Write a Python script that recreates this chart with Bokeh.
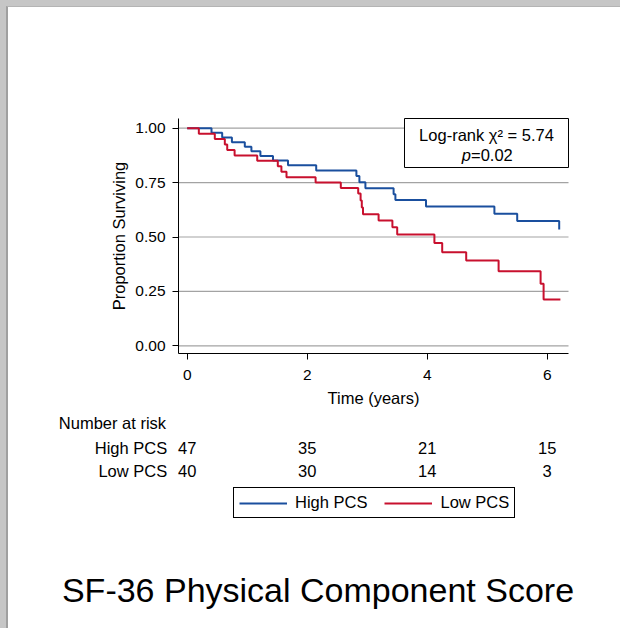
from bokeh.plotting import figure
from bokeh.layouts import column
from bokeh.models import (Range1d, FixedTicker, NumeralTickFormatter, Label,
                          BoxAnnotation, Legend, LegendItem)
from bokeh.embed import file_html
from bokeh.resources import INLINE

# ---- data ----
high_t = [0, 0.405, 0.583, 0.745, 0.96, 1.07, 1.22, 1.43, 1.68, 2.15, 2.82, 2.87, 2.97,
          3.44, 3.47, 3.98, 5.12, 5.50, 6.20]
high_s = [1.0, 0.979, 0.957, 0.936, 0.915, 0.894, 0.872, 0.851, 0.830, 0.806, 0.780, 0.752, 0.724,
          0.697, 0.670, 0.640, 0.607, 0.573, 0.534]
low_t = [0, 0.194, 0.46, 0.627, 0.667, 0.79, 1.167, 1.51, 1.57, 1.655, 2.14, 2.56, 2.85, 2.89,
         2.91, 2.93, 3.19, 3.42, 3.50, 4.12, 4.25, 4.65, 5.19, 5.89, 5.94, 6.22]
low_s = [1.0, 0.975, 0.95, 0.925, 0.90, 0.875, 0.85, 0.825, 0.80, 0.775, 0.75, 0.725, 0.70, 0.668,
         0.635, 0.605, 0.576, 0.545, 0.511, 0.472, 0.430, 0.392, 0.343, 0.285, 0.213, 0.213]

x_ticks = [0, 2, 4, 6]
y_ticks = [0, 0.25, 0.5, 0.75, 1.0]
groups = ["High PCS", "Low PCS"]
at_risk_high = [47, 35, 21, 15]
at_risk_low = [40, 30, 14, 3]
chi2 = 5.74
pval = 0.02
title_text = "SF-36 Physical Component Score"

BLUE = "#1a4f9e"
RED = "#c8102e"
FONT = "Liberation Sans"
FS = "16.5px"

# layout geometry (page pixels -> data); 60 px per year, 217.6 px per unit of survival
PX_X, X_ZERO = 60.0, 186.7
PX_Y, Y_ZERO = 217.6, 345.3
W, H = 612, 621            # figure size; page offset (8, 7) taken by the grey frame


def dx(px):
    return (px - X_ZERO) / PX_X


def dy(py):
    return (Y_ZERO - py) / PX_Y


X0, X1 = dx(178), dx(568)          # plotting region
Y0, Y1 = dy(353), dy(118)

p = figure(width=W, height=H, output_backend="svg", toolbar_location=None,
           x_range=Range1d(dx(8), dx(8 + W)), y_range=Range1d(dy(7 + H), dy(7)),
           min_border_left=0, min_border_right=0, min_border_top=0,
           min_border_bottom=0)
p.outline_line_color = None
p.background_fill_color = "white"
p.border_fill_color = "white"
p.grid.visible = False

# axes drawn at fixed positions inside the canvas
xa, ya = p.xaxis[0], p.yaxis[0]
xa.fixed_location = Y0
xa.bounds = (X0, X1)
ya.fixed_location = X0
ya.bounds = (Y0, Y1)
xa.ticker = FixedTicker(ticks=x_ticks)
ya.ticker = FixedTicker(ticks=y_ticks)
ya.formatter = NumeralTickFormatter(format="0.00")
for ax in (xa, ya):
    ax.axis_line_color = "black"
    ax.axis_line_width = 1
    ax.major_tick_line_color = "black"
    ax.major_tick_in = 0
    ax.major_tick_out = 6
    ax.minor_tick_line_color = None
    ax.major_label_text_font = FONT
    ax.major_label_text_font_size = "15.5px"
    ax.major_label_text_color = "black"
    ax.axis_label_text_font = FONT
    ax.axis_label_text_font_size = FS
    ax.axis_label_text_font_style = "normal"
    ax.axis_label_text_color = "black"
xa.axis_label = "Time (years)"
ya.axis_label = "Proportion Surviving"
ya.major_label_standoff = 7
xa.major_label_standoff = 10
xa.axis_label_standoff = 6
ya.axis_label_standoff = 4
ya.major_label_orientation = "horizontal"

# horizontal grid lines at the y ticks, across the plotting region
p.segment(x0=[X0] * len(y_ticks), x1=[X1] * len(y_ticks), y0=y_ticks, y1=y_ticks,
          line_color="#a3a3a3", line_width=1.2, level="underlay")

r_high = p.step(high_t, high_s, mode="after", line_color=BLUE, line_width=2)
r_low = p.step(low_t, low_s, mode="after", line_color=RED, line_width=2)

# log-rank box
p.add_layout(BoxAnnotation(left=dx(404), right=X1, top=Y1, bottom=dy(167),
                           fill_color="white", fill_alpha=1, line_color="black",
                           line_alpha=1, line_width=1))
p.add_layout(Label(x=dx(486), y=dy(134.5), text=f"Log-rank \u03c7\u00b2 = {chi2:.2f}",
                   text_align="center", text_baseline="middle", text_font=FONT,
                   text_font_size=FS, text_color="black"))
p.add_layout(Label(x=dx(470.5), y=dy(154), text="p", text_align="right",
                   text_baseline="middle", text_font=FONT, text_font_style="italic",
                   text_font_size=FS, text_color="black"))
p.add_layout(Label(x=dx(470.5), y=dy(154), text=f"={pval:.2f}", text_align="left",
                   text_baseline="middle", text_font=FONT,
                   text_font_size=FS, text_color="black"))

# number at risk table
p.add_layout(Label(x=dx(58.3), y=dy(422), text="Number at risk", text_align="left",
                   text_baseline="middle", text_font=FONT, text_font_size=FS,
                   text_color="black"))
for g, yy, vals in zip(groups, [dy(447), dy(470.5)], [at_risk_high, at_risk_low]):
    p.add_layout(Label(x=dx(166.7), y=yy, text=g, text_align="right",
                       text_baseline="middle", text_font=FONT,
                       text_font_size=FS, text_color="black"))
    for xt, v in zip(x_ticks, vals):
        p.add_layout(Label(x=xt, y=yy, text=str(v), text_align="center",
                           text_baseline="middle", text_font=FONT,
                           text_font_size=FS, text_color="black"))

# legend (below the table)
legend = Legend(items=[LegendItem(label=groups[0], renderers=[r_high]),
                       LegendItem(label=groups[1], renderers=[r_low])],
                orientation="horizontal", location=(233 - 8, 7 + H - 518),
                border_line_color="black", border_line_width=1, border_line_alpha=1,
                background_fill_color="white", background_fill_alpha=1,
                padding=5, spacing=17, label_standoff=8, glyph_width=48,
                glyph_height=14, label_height=14, margin=0,
                label_text_font=FONT, label_text_font_size=FS,
                label_text_color="black")
p.add_layout(legend)

# title
p.add_layout(Label(x=dx(317.5), y=dy(589), text=title_text, text_align="center",
                   text_baseline="middle", text_font=FONT, text_font_size="34px",
                   text_color="black"))

inner = column(p, styles={"border-left": "2px solid #a0a0a0",
                          "border-top": "1px solid #b4b4b4"})
layout = column(inner, styles={"border-left": "6px solid #c6c6c6",
                               "border-top": "6px solid #c6c6c6"})

open("out.html", "w").write(file_html(layout, INLINE))
